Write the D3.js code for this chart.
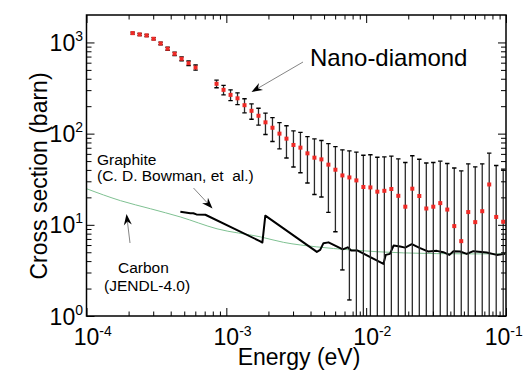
<!DOCTYPE html>
<html>
<head>
<meta charset="utf-8">
<script src="https://cdn.jsdelivr.net/npm/d3@7"></script>
<style>
  html, body { margin: 0; padding: 0; background: #fff; }
  svg { display: block; font-family: "Liberation Sans", Arial, Helvetica, sans-serif; }
</style>
</head>
<body>
<svg id="chart" width="528" height="381"></svg>
<script>
// ---- Nano-diamond total cross section (energy in eV, cross section and 1-sigma error in barn)
const nanoEnergy = [
  2.138e-4, 2.399e-4, 2.692e-4, 3.020e-4, 3.388e-4, 3.802e-4, 4.266e-4, 4.786e-4, 5.370e-4, 6.026e-4,
  8.511e-4, 9.550e-4, 1.072e-3, 1.202e-3, 1.349e-3, 1.514e-3, 1.698e-3, 1.905e-3, 2.138e-3, 2.399e-3,
  2.692e-3, 3.020e-3, 3.388e-3, 3.802e-3, 4.266e-3, 4.786e-3, 5.370e-3, 6.026e-3, 6.761e-3, 7.586e-3,
  8.511e-3, 9.550e-3, 1.072e-2, 1.202e-2, 1.349e-2, 1.514e-2, 1.698e-2, 1.905e-2, 2.138e-2, 2.399e-2,
  2.692e-2, 3.020e-2, 3.388e-2, 3.802e-2, 4.266e-2, 4.786e-2, 5.370e-2, 6.026e-2, 6.761e-2, 7.586e-2,
  8.511e-2, 9.550e-2
];
const nanoSigma = [
  1265, 1224, 1194, 1098, 975, 853, 751, 662, 592, 531,
  352, 302, 266, 244, 205, 178, 157, 133, 116, 100,
  88.1, 75.1, 70.2, 60.8, 54.5, 52.2, 45.7, 40.2, 34.8, 33.1,
  30.7, 26.0, 25.7, 23.1, 23.6, 24.7, 20.8, 15.8, 24.9, 20.7,
  15.1, 15.8, 17.3, 14.7, 9.68, 6.62, 13.8, 10.7, 14.1, 27.7,
  12.2, 10.8
];
const nanoError = [
  32, 32, 32, 32, 32, 32, 32, 32, 33, 34,
  34, 36, 36, 36, 36, 34, 33, 35, 34, 32,
  34, 32, 33, 32, 33, 32, 32, 31.8, 31.6, 31.6,
  32, 32, 33, 32, 32, 32, 32, 32.5, 32.4, 31.6,
  32.5, 32.5, 32.6, 32.4, 32.3, 32.4, 32.8, 32.5, 32.5, 33.4,
  32.6, 30
];

// ---- Graphite measurement (C. D. Bowman et al.)
const graphiteEnergy = [
  4.69e-4, 5.53e-4, 5.81e-4, 6.11e-4, 7.08e-4, 1.75e-3, 1.81e-3, 1.90e-3, 4.44e-3, 4.69e-3,
  4.95e-3, 5.38e-3, 6.80e-3, 7.38e-3, 7.81e-3, 8.63e-3, 1.33e-2, 1.38e-2, 1.48e-2, 1.57e-2,
  1.75e-2, 1.90e-2, 2.12e-2, 2.43e-2, 2.79e-2, 3.20e-2, 3.56e-2, 3.94e-2, 4.21e-2, 4.69e-2,
  5.24e-2, 5.84e-2, 7.28e-2, 8.59e-2, 9.84e-2
];
const graphiteSigma = [
  13.9, 13.4, 13.4, 13.0, 12.9, 6.59, 6.39, 12.6, 5.05, 5.31,
  6.29, 6.42, 5.38, 5.66, 5.22, 5.24, 3.73, 4.68, 4.80, 5.92,
  5.77, 5.62, 6.14, 5.55, 5.09, 5.18, 5.01, 4.68, 5.14, 5.09,
  4.80, 5.14, 4.96, 4.68, 4.80
];

// ---- Carbon evaluated data (JENDL-4.0)
const carbonEnergy = [1e-4, 1.75e-4, 2.87e-4, 4.69e-4, 8.58e-4, 1.75e-3, 2.57e-3, 4.44e-3, 7.69e-3, 1.85e-2, 5.53e-2, 1e-1];
const carbonSigma  = [24.9, 18.4, 15.0, 12.2, 9.04, 7.38, 6.42, 5.73, 5.31, 4.92, 4.80, 4.80];

// ---- Axis ticks
const xTickValues = [1e-4, 1e-3, 1e-2, 1e-1];
const xTickExponents = ["-4", "-3", "-2", "-1"];
const yTickValues = [1, 10, 100, 1000];
const yTickExponents = ["0", "1", "2", "3"];

const svg = d3.select("#chart");
const plotLeft = 86.5, plotRight = 506, plotTop = 15, plotBottom = 316;

const x = d3.scaleLog().domain([1e-4, 1e-1]).range([plotLeft, plotRight]);
const y = d3.scaleLog().domain([1, 2000]).range([plotBottom, plotTop]);

// minor tick positions: 2..9 within each decade
function minorTicks(domain) {
  const out = [];
  for (let d = Math.floor(Math.log10(domain[0])); d < Math.ceil(Math.log10(domain[1])); d++) {
    for (let m = 2; m <= 9; m++) {
      const v = m * Math.pow(10, d);
      if (v > domain[0] && v < domain[1]) out.push(v);
    }
  }
  return out;
}

svg.append("defs").append("clipPath").attr("id", "plot-clip")
  .append("rect").attr("x", plotLeft).attr("y", plotTop)
  .attr("width", plotRight - plotLeft).attr("height", plotBottom - plotTop);

const plot = svg.append("g").attr("clip-path", "url(#plot-clip)");

// Carbon (JENDL-4.0) curve
const carbon = carbonEnergy.map((e, i) => [e, carbonSigma[i]]);
plot.append("path")
  .datum(carbon)
  .attr("fill", "none")
  .attr("stroke", "#7fc192")
  .attr("stroke-width", 1)
  .attr("d", d3.line().x(d => x(d[0])).y(d => y(d[1])).curve(d3.curveMonotoneX));

// Graphite curve
const graphite = graphiteEnergy.map((e, i) => [e, graphiteSigma[i]]);
plot.append("path")
  .datum(graphite)
  .attr("fill", "none")
  .attr("stroke", "#000")
  .attr("stroke-width", 2)
  .attr("stroke-linejoin", "round")
  .attr("d", d3.line().x(d => x(d[0])).y(d => y(d[1])));

// Nano-diamond error bars and points
const nano = nanoEnergy.map((e, i) => ({ e, s: nanoSigma[i], err: nanoError[i] }));
const bars = plot.append("g");
nano.forEach(d => {
  const cx = x(d.e);
  const hi = d.s + d.err;
  const lo = d.s - d.err;
  const yHi = y(hi);
  const yLo = lo > 0 ? y(lo) : plotBottom + 20;
  bars.append("line")
    .attr("x1", cx).attr("x2", cx).attr("y1", yHi).attr("y2", yLo)
    .attr("stroke", "#2a2a2a").attr("stroke-width", 1.3);
  bars.append("line")
    .attr("x1", cx - 2.2).attr("x2", cx + 2.2).attr("y1", yHi).attr("y2", yHi)
    .attr("stroke", "#000").attr("stroke-width", 1.4);
  if (lo > 1) {
    bars.append("line")
      .attr("x1", cx - 2.2).attr("x2", cx + 2.2).attr("y1", yLo).attr("y2", yLo)
      .attr("stroke", "#000").attr("stroke-width", 1.4);
  }
});
plot.append("g").selectAll("rect")
  .data(nano)
  .join("rect")
  .attr("x", d => x(d.e) - 2)
  .attr("y", d => y(d.s) - 2)
  .attr("width", 4)
  .attr("height", 4)
  .attr("fill", "#ee2a26");

// Axes: inward major and minor ticks on all four sides
const axes = svg.append("g");
function drawAxis(axisFn, scale, values, size, transform) {
  const g = axes.append("g").attr("transform", transform)
    .call(axisFn(scale).tickValues(values).tickSize(-size).tickFormat(""));
  g.select(".domain").remove();
  g.selectAll(".tick line").attr("stroke", "#000").attr("stroke-width", 1);
  return g;
}
const xMinor = minorTicks(x.domain());
const yMinor = minorTicks(y.domain());
drawAxis(d3.axisBottom, x, xTickValues, 8, `translate(0,${plotBottom})`);
drawAxis(d3.axisBottom, x, xMinor, 4.5, `translate(0,${plotBottom})`);
drawAxis(d3.axisTop, x, xTickValues, 8, `translate(0,${plotTop})`);
drawAxis(d3.axisTop, x, xMinor, 4.5, `translate(0,${plotTop})`);
drawAxis(d3.axisLeft, y, yTickValues, 8, `translate(${plotLeft},0)`);
drawAxis(d3.axisLeft, y, yMinor, 5, `translate(${plotLeft},0)`);
drawAxis(d3.axisRight, y, yTickValues, 8, `translate(${plotRight},0)`);
drawAxis(d3.axisRight, y, yMinor, 5, `translate(${plotRight},0)`);

// frame
axes.append("rect")
  .attr("x", plotLeft).attr("y", plotTop)
  .attr("width", plotRight - plotLeft).attr("height", plotBottom - plotTop)
  .attr("fill", "none").attr("stroke", "#000").attr("stroke-width", 1.5);

// tick labels with superscript exponents
const labelSize = 23, supSize = 14;
xTickValues.forEach((v, i) => {
  const t = svg.append("text").attr("y", plotBottom + 28.5).attr("font-size", labelSize).attr("fill", "#000");
  const base = t.append("tspan").text("10");
  t.append("tspan").attr("dy", -9).attr("font-size", supSize).text(xTickExponents[i]);
  const w = base.node().getComputedTextLength();
  const x0 = x(v) - w / 2;
  t.attr("x", x0);
  const total = t.node().getBBox().width;
  if (x0 + total > 523) t.attr("x", 523 - total);
});
yTickValues.forEach((v, i) => {
  const t = svg.append("text").attr("x", 83).attr("y", y(v) + 8.5)
    .attr("text-anchor", "end").attr("font-size", labelSize).attr("fill", "#000");
  t.append("tspan").text("10");
  t.append("tspan").attr("dy", -10).attr("font-size", supSize).text(yTickExponents[i]);
});

// axis titles
svg.append("text")
  .attr("x", 299).attr("y", 365)
  .attr("text-anchor", "middle").attr("font-size", 23)
  .text("Energy (eV)");
svg.append("text")
  .attr("transform", "translate(46.5,176) rotate(-90)")
  .attr("text-anchor", "middle").attr("font-size", 23)
  .text("Cross section (barn)");

// annotations
function arrow(x1, y1, x2, y2) {
  const g = svg.append("g");
  const ang = Math.atan2(y2 - y1, x2 - x1);
  const len = 11, half = 4, notch = 7.5;
  const ux = Math.cos(ang), uy = Math.sin(ang);
  const bx = x2 - ux * len, by = y2 - uy * len;
  const nx = x2 - ux * notch, ny = y2 - uy * notch;
  g.append("line")
    .attr("x1", x1).attr("y1", y1).attr("x2", nx).attr("y2", ny)
    .attr("stroke", "#777").attr("stroke-width", 0.9);
  g.append("path")
    .attr("d", `M${x2},${y2}L${bx - uy * half},${by + ux * half}L${nx},${ny}L${bx + uy * half},${by - ux * half}Z`)
    .attr("fill", "#000");
}

svg.append("text").attr("x", 310).attr("y", 66).attr("font-size", 24).text("Nano-diamond");
arrow(303, 62, 251.5, 92);

svg.append("text").attr("x", 97).attr("y", 165).attr("font-size", 15.5).text("Graphite");
svg.append("text").attr("x", 97).attr("y", 180.5).attr("font-size", 15.5)
  .style("white-space", "pre").text("(C. D. Bowman, et  al.)");
arrow(193.5, 188, 212.5, 208.5);

svg.append("text").attr("x", 118).attr("y", 273).attr("font-size", 15.5).text("Carbon");
svg.append("text").attr("x", 104).attr("y", 291).attr("font-size", 15.5).text("(JENDL-4.0)");
arrow(130, 243, 126.5, 214);
</script>
</body>
</html>
